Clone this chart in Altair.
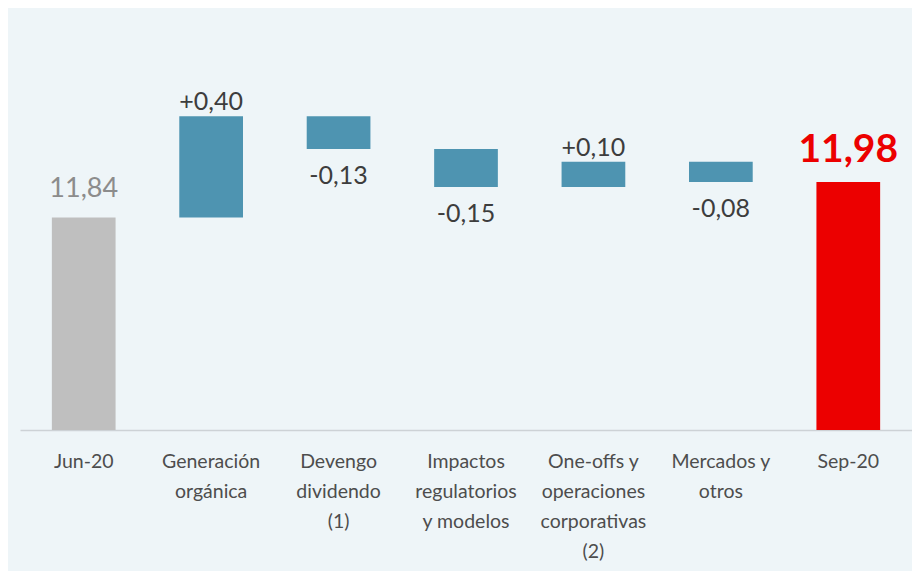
import altair as alt
import pandas as pd

# ---- data ----
categories = [
    "Jun-20",
    "Generación|orgánica",
    "Devengo|dividendo|(1)",
    "Impactos|regulatorios|y modelos",
    "One-offs  y|operaciones|corporativas|(2)",
    "Mercados y|otros",
    "Sep-20",
]
start_value = 11.84
deltas = [0.40, -0.13, -0.15, 0.10, -0.08]
end_value = 11.98
value_labels = ["11,84", "+0,40", "-0,13", "-0,15", "+0,10", "-0,08", "11,98"]
axis_min = 11.0
axis_max = 12.6

# ---- build waterfall table ----
rows = []
rows.append(dict(cat=categories[0], lo=axis_min, hi=start_value, anchor=start_value,
                 kind="start", label=value_labels[0]))
level = start_value
for i, d in enumerate(deltas):
    new = level + d
    rows.append(dict(cat=categories[i + 1], lo=min(level, new), hi=max(level, new),
                     anchor=max(level, new) if d > 0 else min(level, new),
                     kind="up" if d > 0 else "down", label=value_labels[i + 1]))
    level = new
rows.append(dict(cat=categories[-1], lo=axis_min, hi=end_value, anchor=end_value,
                 kind="end", label=value_labels[-1]))
df = pd.DataFrame(rows)

FONT = "Lato"
x_enc = alt.X("cat:N", sort=categories,
              scale=alt.Scale(paddingInner=0.5, paddingOuter=0.25),
              axis=alt.Axis(title=None, labelAngle=0, ticks=False,
                            labelExpr="split(datum.label, '|')",
                            labelLineHeight=30, labelPadding=22,
                            labelFontSize=19.5, labelFont=FONT, labelColor="#4d4d4d",
                            domainColor="#cdd2d6", domainWidth=1.5, labelBaseline="top"))
y_scale = alt.Scale(domain=[axis_min, axis_max], zero=False, nice=False)

base = alt.Chart(df).encode(x=x_enc)

bars = base.mark_bar().encode(
    y=alt.Y("lo:Q", scale=y_scale, axis=None),
    y2="hi:Q",
    color=alt.Color("kind:N", legend=None,
                    scale=alt.Scale(domain=["start", "up", "down", "end"],
                                    range=["#bfbfbf", "#4e94b1", "#4e94b1", "#ec0000"])),
)

txt_up = base.mark_text(font=FONT, fontSize=25, color="#3d3d3d", baseline="alphabetic", dy=-6).encode(
    y=alt.Y("anchor:Q", scale=y_scale), text="label:N"
).transform_filter("datum.kind == 'up'")

txt_down = base.mark_text(font=FONT, fontSize=25, color="#3d3d3d", baseline="alphabetic", dy=35).encode(
    y=alt.Y("anchor:Q", scale=y_scale), text="label:N"
).transform_filter("datum.kind == 'down'")

txt_start = base.mark_text(font=FONT, fontSize=27, color="#8c8c8c", baseline="alphabetic", dy=-20).encode(
    y=alt.Y("anchor:Q", scale=y_scale), text="label:N"
).transform_filter("datum.kind == 'start'")

txt_end = base.mark_text(font=FONT, fontSize=39, fontWeight="bold", color="#ec0000",
                         baseline="alphabetic", dy=-20).encode(
    y=alt.Y("anchor:Q", scale=y_scale), text="label:N"
).transform_filter("datum.kind == 'end'")

chart = alt.layer(bars, txt_up, txt_down, txt_start, txt_end).properties(
    width=892, height=405,
    autosize=alt.AutoSizeParams(type="none"),
    padding={"left": 12, "top": 17, "right": 0, "bottom": 141},
    background="#eef5f8",
).configure_view(stroke=None)

chart.save("out.html", embed_options={"renderer": "svg", "actions": False})
